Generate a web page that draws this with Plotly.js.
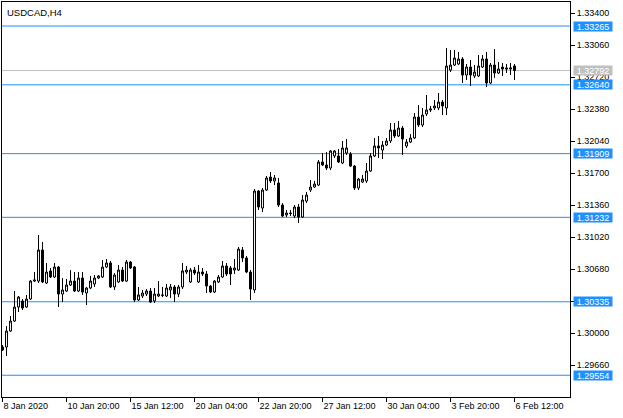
<!DOCTYPE html>
<html>
<head>
<meta charset="utf-8">
<script src="https://cdn.plot.ly/plotly-3.0.1.min.js"></script>
<style>html,body{margin:0;padding:0;background:#fff;}#chart{width:623px;height:418px;}</style>
</head>
<body>
<div id="chart"></div>
<script>
// USDCAD H4 bars, 8 Jan 2020 04:00 .. 6 Feb 2020 12:00 (bar index 0..128)
var open = [1.29854,1.29854,1.30024,1.30130,1.30279,1.30343,1.30279,1.30364,1.30555,1.30555,
1.30885,1.30534,1.30662,1.30598,1.30704,1.30417,1.30449,1.30513,1.30555,1.30449,
1.30587,1.30428,1.30481,1.30524,1.30587,1.30598,1.30704,1.30747,1.30492,1.30545,
1.30672,1.30555,1.30757,1.30704,1.30354,1.30396,1.30417,1.30449,1.30343,1.30396,
1.30407,1.30396,1.30460,1.30492,1.30417,1.30492,1.30651,1.30545,1.30672,1.30545,
1.30651,1.30630,1.30502,1.30438,1.30545,1.30598,1.30715,1.30694,1.30672,1.30672,
1.30885,1.30800,1.30651,1.30460,1.31512,1.31331,1.31522,1.31660,1.31618,1.31597,
1.31363,1.31257,1.31278,1.31246,1.31342,1.31235,1.31405,1.31522,1.31554,1.31575,
1.31820,1.31788,1.31756,1.31884,1.31884,1.31809,1.31915,1.31905,1.31777,1.31544,
1.31607,1.31618,1.31724,1.31884,1.31990,1.31947,1.32000,1.32043,1.32160,1.32096,
1.32181,1.31990,1.32032,1.32075,1.32298,1.32213,1.32330,1.32372,1.32394,1.32394,
1.32457,1.32394,1.32797,1.32850,1.32861,1.32914,1.32744,1.32829,1.32734,1.32734,
1.32829,1.32914,1.32659,1.32850,1.32765,1.32829,1.32819,1.32808,1.32840];
var high = [1.29875,1.30077,1.30184,1.30449,1.30396,1.30364,1.30407,1.30566,1.30651,1.31044,
1.30970,1.30747,1.30694,1.30747,1.30715,1.30587,1.30577,1.30672,1.30651,1.30651,
1.30651,1.30492,1.30609,1.30619,1.30619,1.30779,1.30789,1.30768,1.30640,1.30725,
1.30704,1.30779,1.30768,1.30715,1.30492,1.30460,1.30470,1.30481,1.30481,1.30555,
1.30492,1.30524,1.30524,1.30513,1.30513,1.30747,1.30715,1.30694,1.30704,1.30725,
1.30694,1.30662,1.30513,1.30566,1.30619,1.30768,1.30747,1.30715,1.30789,1.30917,
1.30917,1.30821,1.30672,1.31533,1.31522,1.31544,1.31671,1.31714,1.31682,1.31650,
1.31384,1.31310,1.31310,1.31363,1.31374,1.31469,1.31501,1.31629,1.31618,1.31841,
1.31915,1.31926,1.31947,1.31947,1.31958,1.32043,1.32064,1.31926,1.31788,1.31650,
1.31682,1.31809,1.31915,1.32075,1.32096,1.32043,1.32075,1.32234,1.32234,1.32255,
1.32202,1.32064,1.32117,1.32340,1.32425,1.32394,1.32532,1.32415,1.32479,1.32553,
1.32479,1.33031,1.33010,1.33010,1.32989,1.32935,1.32861,1.32904,1.32850,1.32957,
1.32957,1.32989,1.32872,1.33020,1.32882,1.32872,1.32861,1.32872,1.32861];
var low = [1.29812,1.29759,1.30014,1.30120,1.30226,1.30247,1.30269,1.30354,1.30545,1.30534,
1.30534,1.30524,1.30587,1.30587,1.30279,1.30332,1.30438,1.30502,1.30438,1.30438,
1.30407,1.30300,1.30470,1.30492,1.30577,1.30587,1.30694,1.30481,1.30460,1.30534,
1.30545,1.30545,1.30683,1.30332,1.30343,1.30375,1.30396,1.30322,1.30322,1.30385,
1.30385,1.30385,1.30375,1.30332,1.30385,1.30470,1.30630,1.30534,1.30619,1.30534,
1.30609,1.30428,1.30428,1.30428,1.30534,1.30587,1.30609,1.30513,1.30630,1.30662,
1.30757,1.30640,1.30354,1.30428,1.31310,1.31288,1.31512,1.31597,1.31575,1.31342,
1.31235,1.31235,1.31246,1.31225,1.31172,1.31225,1.31384,1.31501,1.31544,1.31565,
1.31777,1.31735,1.31735,1.31862,1.31809,1.31798,1.31894,1.31767,1.31522,1.31522,
1.31597,1.31597,1.31714,1.31873,1.31862,1.31852,1.31990,1.32022,1.32075,1.32085,
1.31894,1.31969,1.32022,1.32064,1.32192,1.32192,1.32308,1.32351,1.32372,1.32372,
1.32319,1.32319,1.32776,1.32840,1.32850,1.32659,1.32691,1.32627,1.32712,1.32723,
1.32819,1.32617,1.32648,1.32712,1.32755,1.32734,1.32765,1.32744,1.32691];
var close = [1.29822,1.30024,1.30130,1.30279,1.30385,1.30269,1.30364,1.30555,1.30566,1.30885,
1.30545,1.30651,1.30598,1.30704,1.30417,1.30460,1.30513,1.30555,1.30449,1.30587,
1.30438,1.30481,1.30555,1.30587,1.30609,1.30704,1.30747,1.30492,1.30619,1.30672,
1.30555,1.30757,1.30694,1.30354,1.30407,1.30428,1.30449,1.30332,1.30417,1.30417,
1.30404,1.30481,1.30492,1.30417,1.30492,1.30662,1.30672,1.30672,1.30640,1.30651,
1.30630,1.30502,1.30438,1.30555,1.30598,1.30715,1.30630,1.30630,1.30694,1.30895,
1.30800,1.30651,1.30470,1.31512,1.31342,1.31522,1.31650,1.31618,1.31650,1.31363,
1.31246,1.31278,1.31273,1.31342,1.31235,1.31416,1.31469,1.31554,1.31586,1.31820,
1.31788,1.31756,1.31937,1.31937,1.31820,1.31969,1.31969,1.31777,1.31544,1.31639,
1.31639,1.31724,1.31884,1.31990,1.31969,1.32000,1.32043,1.32160,1.32096,1.32181,
1.32064,1.32032,1.32075,1.32298,1.32213,1.32319,1.32372,1.32383,1.32415,1.32457,
1.32415,1.32840,1.32850,1.32925,1.32914,1.32744,1.32829,1.32744,1.32776,1.32840,
1.32914,1.32659,1.32850,1.32765,1.32808,1.32808,1.32808,1.32819,1.32792];

var tickBars = [0,16,32,48,64,80,96,112,128];
var tickLabels = ['8 Jan 2020','10 Jan 20:00','15 Jan 12:00','20 Jan 04:00','22 Jan 20:00','27 Jan 12:00','30 Jan 04:00','3 Feb 20:00','6 Feb 12:00'];
var priceTicks = [1.29660,1.30000,1.30340,1.30680,1.31020,1.31360,1.31700,1.32040,1.32380,1.32720,1.33060,1.33400];
var levels = [1.33265,1.32640,1.31909,1.31232,1.30335,1.29554];
var lastPrice = 1.32792;

var idx = open.map(function(_, i){ return i; });
var BLUE = '#1E90FF', GRAY = '#C0C0C0';
var FONT = 'Liberation Sans, Arial, sans-serif';

var shapes = [], annotations = [];
levels.forEach(function(v){
  shapes.push({type:'line', xref:'paper', x0:0, x1:1, yref:'y', y0:v, y1:v, line:{color:BLUE, width:1}, layer:'below'});
  annotations.push({xref:'paper', x:1, xanchor:'left', xshift:3, yref:'y', y:v, yanchor:'middle',
    text:v.toFixed(5), showarrow:false, bgcolor:BLUE, font:{family:FONT, size:9, color:'#fff'},
    width:38, height:9, borderpad:0, align:'center'});
});
shapes.push({type:'line', xref:'paper', x0:0, x1:1, yref:'y', y0:lastPrice, y1:lastPrice, line:{color:GRAY, width:1}, layer:'below'});
annotations.push({xref:'paper', x:1, xanchor:'left', xshift:3, yref:'y', y:lastPrice, yanchor:'middle',
  text:lastPrice.toFixed(5), showarrow:false, bgcolor:GRAY, font:{family:FONT, size:9, color:'#fff'},
  width:38, height:9, borderpad:0, align:'center'});
annotations.push({xref:'paper', yref:'paper', x:0, y:1, xanchor:'left', yanchor:'top', xshift:3, yshift:-3,
  text:'USDCAD,H4', showarrow:false, font:{family:FONT, size:9.5, color:'#000'}});

var trace = {
  type:'candlestick', x:idx, open:open, high:high, low:low, close:close,
  whiskerwidth:0, hoverinfo:'skip',
  increasing:{line:{color:'#000', width:1}, fillcolor:'#fff'},
  decreasing:{line:{color:'#000', width:1}, fillcolor:'#000'}
};

var layout = {
  width:623, height:418,
  margin:{l:2, r:53, t:2, b:21},
  paper_bgcolor:'#fff', plot_bgcolor:'#fff',
  showlegend:false,
  font:{family:FONT, size:9, color:'#000'},
  xaxis:{range:[-0.125, 141.875], tickmode:'array', tickvals:tickBars, ticktext:tickLabels,
    ticks:'outside', ticklen:4, tickcolor:'#000', showgrid:false, zeroline:false,
    showline:true, linecolor:'#000', linewidth:1, mirror:true,
    ticklabelposition:'outside right', rangeslider:{visible:false},
    tickfont:{family:FONT, size:9, color:'#000'}, fixedrange:true},
  yaxis:{range:[1.29323, 1.33520], side:'right', tickmode:'array', tickvals:priceTicks,
    tickformat:'.5f', ticks:'outside', ticklen:4, tickcolor:'#000', showgrid:false, zeroline:false,
    showline:true, linecolor:'#000', linewidth:1, mirror:true,
    tickfont:{family:FONT, size:9, color:'#000'}, fixedrange:true},
  shapes:shapes,
  annotations:annotations
};

Plotly.newPlot('chart', [trace], layout, {displayModeBar:false, staticPlot:true});
</script>
</body>
</html>
